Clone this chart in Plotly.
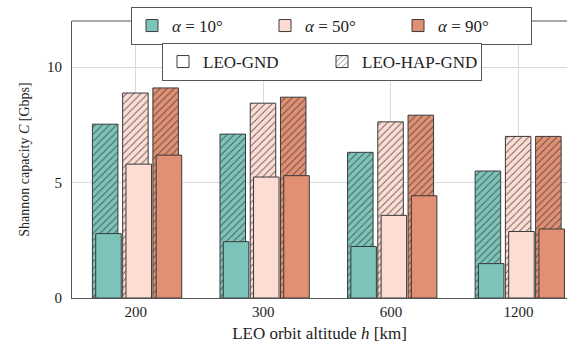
import plotly.graph_objects as go

altitudes = ["200", "300", "600", "1200"]
alpha_labels = ["<i>α</i> = 10°", "<i>α</i> = 50°", "<i>α</i> = 90°"]
colors = ["#7cc4ba", "#fdddd3", "#e19073"]

# Shannon capacity [Gbps]
leo_gnd = [
    [2.79, 2.44, 2.23, 1.49],   # alpha = 10
    [5.80, 5.24, 3.58, 2.88],   # alpha = 50
    [6.19, 5.30, 4.43, 2.99],   # alpha = 90
]
leo_hap_gnd = [
    [7.53, 7.10, 6.31, 5.50],
    [8.88, 8.44, 7.63, 7.00],
    [9.10, 8.70, 7.92, 7.00],
]

FONT = "Liberation Serif"
EDGE = "#3a3a3a"
bar_w = 0.2
spacing = 0.237
hatch_shift = -0.003
solid_shift = 0.023

fig = go.Figure()

# hatched (LEO-HAP-GND) bars behind
for i in range(3):
    c = -spacing + i * spacing + hatch_shift
    fig.add_trace(go.Bar(
        x=altitudes, y=leo_hap_gnd[i], width=bar_w, offset=c - bar_w / 2,
        marker=dict(color=colors[i], line=dict(color=EDGE, width=1),
                    pattern=dict(shape="/", size=5, solidity=0.18,
                                 fgcolor="rgba(50,50,50,0.75)", bgcolor=colors[i],
                                 fillmode="replace")),
        showlegend=False, hoverinfo="skip"))

# solid (LEO-GND) bars in front, also legend 1 entries
for i in range(3):
    c = -spacing + i * spacing + solid_shift
    fig.add_trace(go.Bar(
        x=altitudes, y=leo_gnd[i], width=bar_w, offset=c - bar_w / 2,
        marker=dict(color=colors[i], line=dict(color=EDGE, width=1)),
        name=alpha_labels[i], legend="legend", showlegend=True))

# legend 2 entries
fig.add_trace(go.Bar(x=[None], y=[None], name="LEO-GND", legend="legend2",
                     marker=dict(color="white", line=dict(color=EDGE, width=1))))
fig.add_trace(go.Bar(x=[None], y=[None], name="LEO-HAP-GND", legend="legend2",
                     marker=dict(color="white", line=dict(color=EDGE, width=1),
                                 pattern=dict(shape="/", size=5, solidity=0.18,
                                              fgcolor="rgba(60,60,60,0.8)", bgcolor="white",
                                              fillmode="replace"))))

fig.update_layout(
    width=567, height=347,
    margin=dict(l=72, r=0, t=21, b=49, autoexpand=False),
    barmode="overlay",
    plot_bgcolor="white", paper_bgcolor="white",
    font=dict(family=FONT, size=15, color="#222"),
    xaxis=dict(
        type="category", range=[-0.5, 3.38],
        showgrid=True, gridcolor="#dadada", gridwidth=1,
        showline=True, linecolor="#555", linewidth=1.2, mirror=False,
        ticks="", tickfont=dict(size=15, family=FONT),
        title=dict(text="LEO orbit altitude <i>h</i> [km]", font=dict(size=17, family=FONT), standoff=8),
    ),
    yaxis=dict(
        range=[0, 12], tickvals=[0, 5, 10],
        showgrid=True, gridcolor="#dadada", gridwidth=1, zeroline=False,
        showline=True, linecolor="#555", linewidth=1.2,
        ticks="", tickfont=dict(size=15, family=FONT), ticklabelstandoff=6,
        title=dict(text="Shannon capacity <i>C</i> [Gbps]", font=dict(size=14, family=FONT), standoff=14),
    ),
    legend=dict(
        orientation="h", xref="container", yref="container",
        x=131 / 567, y=1 - 7 / 347, xanchor="left", yanchor="top",
        bgcolor="white", bordercolor="#555", borderwidth=1,
        entrywidth=88, entrywidthmode="pixels",
        font=dict(size=17, family=FONT), traceorder="normal",
    ),
    legend2=dict(
        orientation="h", xref="container", yref="container",
        x=162 / 567, y=1 - 43 / 347, xanchor="left", yanchor="top",
        bgcolor="white", bordercolor="#555", borderwidth=1,
        entrywidth=114, entrywidthmode="pixels",
        font=dict(size=17, family=FONT), traceorder="normal",
    ),
)

# top spine
fig.add_shape(type="line", xref="paper", yref="paper", x0=0, x1=1, y0=1, y1=1,
              line=dict(color="#555", width=1.2), layer="below")

fig.write_html("out.html")
